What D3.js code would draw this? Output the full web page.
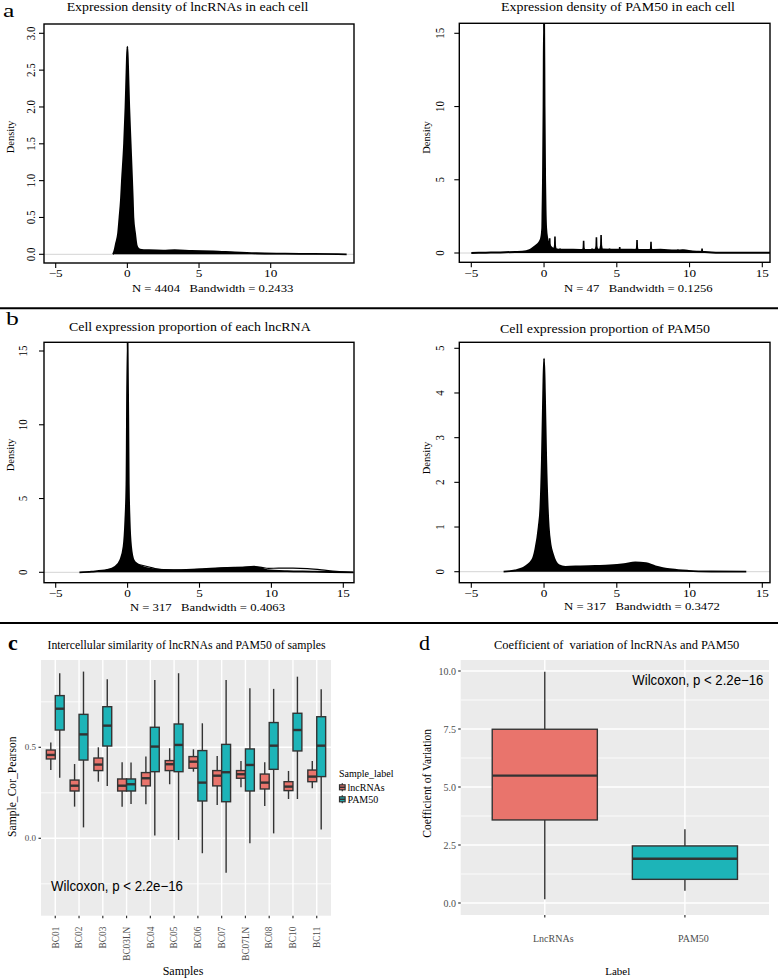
<!DOCTYPE html>
<html><head><meta charset="utf-8">
<script src="https://cdn.jsdelivr.net/npm/d3@7/dist/d3.min.js"></script>
<style>
body{margin:0;background:#fff}
svg{display:block}
text{white-space:pre}
</style>
</head><body>
<svg id="fig" width="778" height="979"></svg>
<script>
// ================= DATA =================
// Panel a (left): envelope of the per-cell lncRNA expression densities
const aLncX     = [-1.0,-0.9,-0.79,-0.65,-0.55,-0.45,-0.38,-0.23,-0.13,-0.05,0,0.05,0.13,0.23,0.33,0.38,0.42,0.54,0.65,0.8,1.0,1.5,2.5,3.3,4.5,6,7.5,9,11,13,15.3];
const aLncUpper = [0,0.05,0.15,0.28,0.5,0.74,1.0,1.5,2.0,2.55,2.82,2.55,2.0,1.5,1.0,0.74,0.5,0.28,0.12,0.07,0.06,0.055,0.05,0.055,0.045,0.04,0.025,0.014,0.009,0.005,0];

// Panel a (right): envelope of the per-cell PAM50 expression densities + narrow spikes
const aPamX     = [-5,-4,-3,-2,-1.5,-1,-0.8,-0.5,-0.35,-0.2,-0.12,-0.1,-0.07,-0.03,0,0.03,0.07,0.1,0.14,0.22,0.35,0.55,0.8,1.2,2,3,4,5,6,7,8,9,9.6,10.2,10.6,11.3,12,15.8];
const aPamUpper = [0,0.02,0.04,0.07,0.09,0.2,0.32,0.55,0.7,1.0,1.7,3,5,10,16,10,5,3,1.7,1.0,0.6,0.34,0.26,0.22,0.22,0.2,0.24,0.22,0.22,0.2,0.22,0.17,0.18,0.1,0.08,0.05,0.02,0.01];
const aPamSpikeX = [0.39,0.75,1.1,1.6,2.2,2.72,3.3,3.6,3.92,4.5,4.8,5.2,5.7,6.39,6.9,7.35,8.1,8.8,9.2,9.5,10.1,10.86];
const aPamSpikeY = [1.0,1.12,0.3,0.25,0.28,0.84,0.3,1.07,1.23,0.3,0.28,0.41,0.25,0.89,0.22,0.77,0.25,0.2,0.24,0.22,0.14,0.3];

// Panel b (left): cell expression proportion of each lncRNA
const bLncX       = [-3.35,-2.5,-1.44,-0.86,-0.51,-0.28,-0.16,-0.08,0,0.08,0.14,0.24,0.42,0.7,0.89,1.81,3.2,4.84,6.94,8.0,8.8,9.7,11.1,13,14.1,15.7];
const bLncCore    = [0,0.05,0.16,0.38,0.83,1.74,3.5,6,15.8,6,3.5,1.74,0.83,0.55,0.42,0.2,0.15,0.2,0.3,0.32,0.38,0.15,0.08,0.05,0.02,0];
const bLncOutlineX = [0.3,0.6,1.0,1.5,1.9,2.5,3.5,5,7,8.5,9.2,9.8,10.5,11.5,12.5,13.5,14.5,15.7];
const bLncOutlineY = [0.75,0.55,0.48,0.36,0.25,0.17,0.15,0.2,0.3,0.36,0.35,0.27,0.28,0.28,0.25,0.17,0.06,0];

// Panel b (right): cell expression proportion of PAM50
const bPamX     = [-2.78,-2.0,-1.51,-0.82,-0.6,-0.37,-0.25,-0.15,-0.06,0,0.06,0.15,0.25,0.32,0.45,0.6,1.0,1.47,2.5,3.5,4.5,5.5,6.27,7.0,7.65,8.8,9.94,11.5,13.9];
const bPamUpper = [0,0.03,0.075,0.26,0.5,1.0,1.45,2.5,4.0,4.77,4.0,2.5,1.45,1.0,0.6,0.4,0.15,0.11,0.12,0.13,0.14,0.17,0.21,0.19,0.12,0.05,0.02,0.005,0];

// Panel c: intercellular similarity (box statistics per sample)
const samples = ["BC01","BC02","BC03","BC03LN","BC04","BC05","BC06","BC07","BC07LN","BC08","BC10","BC11"];
const cLncLow  = [0.375,0.174,0.311,0.174,0.187,0.297,0.366,0.183,0.280,0.178,0.216,0.275];
const cLncQ1   = [0.436,0.260,0.372,0.260,0.288,0.372,0.385,0.288,0.330,0.271,0.262,0.311];
const cLncMed  = [0.458,0.289,0.405,0.289,0.330,0.407,0.421,0.344,0.352,0.306,0.284,0.339];
const cLncQ3   = [0.485,0.320,0.441,0.326,0.361,0.427,0.449,0.372,0.372,0.353,0.311,0.375];
const cLncHigh = [0.526,0.408,0.500,0.418,0.449,0.495,0.489,0.452,0.425,0.418,0.370,0.425];
const cPamLow  = [0.333,0.060,0.288,0.189,0.016,-0.009,-0.082,-0.189,-0.027,0.027,0.216,0.049];
const cPamQ1   = [0.595,0.430,0.507,0.260,0.366,0.366,0.205,0.201,0.260,0.379,0.480,0.339];
const cPamMed  = [0.712,0.571,0.619,0.297,0.504,0.513,0.306,0.363,0.403,0.509,0.595,0.509];
const cPamQ3   = [0.784,0.681,0.723,0.326,0.610,0.628,0.482,0.516,0.491,0.636,0.687,0.668];
const cPamHigh = [0.907,0.916,0.874,0.416,0.870,0.907,0.632,0.870,0.824,0.821,0.888,0.819];
const cYTicks = [0.0, 0.5];
const cLegend = ["lncRNAs","PAM50"];

// Panel d: coefficient of variation
const dLabels = ["LncRNAs","PAM50"];
const dLow  = [0.16, 0.53];
const dQ1   = [3.58, 1.02];
const dMed  = [5.49, 1.91];
const dQ3   = [7.49, 2.46];
const dHigh = [9.97, 3.18];
const dYTicks = [0.0, 2.5, 5.0, 7.5, 10.0];

// ================= DRAWING =================
const svg = d3.select("#fig");
const SERIF = "'Liberation Serif','Times New Roman',serif";
const SANS = "'Liberation Sans',Arial,sans-serif";
const RED = "#E9746C", TEAL = "#1DB4B8";

function txt(parent, x, y, s, o = {}) {
  let tr = `translate(${x},${y})`;
  if (o.sx) tr += ` scale(${o.sx},1)`;
  if (o.rot) tr += ` rotate(${o.rot})`;
  const t = parent.append("text")
    .attr("transform", tr)
    .attr("text-anchor", o.anchor || "middle")
    .attr("fill", o.fill || "#000")
    .style("font-size", (o.size || 11) + "px")
    .style("font-family", o.family || SERIF)
    .text(s);
  if (o.weight) t.style("font-weight", o.weight);
  if (o.dy) t.attr("dy", o.dy);
  if (o.len) t.attr("textLength", o.len).attr("lengthAdjust", "spacingAndGlyphs");
  return t;
}

const zip = (xs, ys) => xs.map((v, i) => [v, ys[i]]);

function densityPanel(p) {
  const g = svg.append("g");
  const x = d3.scaleLinear().domain(p.xDom).range(p.xRange);
  const y = d3.scaleLinear().domain(p.yDom).range(p.yRange);
  const [bx0, by0, bx1, by1] = p.box;
  const cid = "clip-" + p.id;
  svg.append("clipPath").attr("id", cid).append("rect")
    .attr("x", bx0).attr("y", by0).attr("width", bx1 - bx0).attr("height", by1 - by0);
  const plot = g.append("g").attr("clip-path", `url(#${cid})`);
  plot.append("line").attr("x1", bx0).attr("x2", bx1).attr("y1", y(0)).attr("y2", y(0))
    .attr("stroke", "#d4d4d4").attr("stroke-width", 1);
  p.draw(plot, x, y);
  g.append("rect").attr("x", bx0).attr("y", by0).attr("width", bx1 - bx0).attr("height", by1 - by0)
    .attr("fill", "none").attr("stroke", "#000").attr("stroke-width", 1.4);
  p.xTicks.forEach(v => {
    g.append("line").attr("x1", x(v)).attr("x2", x(v)).attr("y1", by1).attr("y2", by1 + 5)
      .attr("stroke", "#000").attr("stroke-width", 1.1);
    txt(g, x(v), p.xLabY, d3.format("d")(v), {size: 11, sx: 1.2});
  });
  p.yTicks.forEach(v => {
    g.append("line").attr("x1", bx0 - 5).attr("x2", bx0).attr("y1", y(v)).attr("y2", y(v))
      .attr("stroke", "#000").attr("stroke-width", 1.1);
    txt(g, p.yLabX, y(v), p.yFmt(v), {size: 11, sx: 1.2, rot: -90});
  });
  txt(g, p.title[1], p.title[2], p.title[0], {size: 11.5, len: p.title[3]});
  txt(g, p.xlab[1], p.xlab[2], p.xlab[0], {size: 11, len: p.xlab[3]});
  txt(g, p.ylab[0], p.ylab[1], "Density", {size: 10.5, rot: -90});
}

const areaGen = (x, y) => d3.area().x(d => x(d[0])).y0(y(0)).y1(d => y(d[1])).curve(d3.curveMonotoneX);
const lineGen = (x, y) => d3.line().x(d => x(d[0])).y(d => y(d[1])).curve(d3.curveMonotoneX);

// ---- a left
densityPanel({
  id: "al", box: [44, 24, 354, 263],
  xDom: [-5, 10], xRange: [55.7, 270.7], yDom: [0, 3], yRange: [254.3, 33.3],
  xTicks: [-5, 0, 5, 10], yTicks: [0, 0.5, 1, 1.5, 2, 2.5, 3], yFmt: d3.format(".1f"),
  xLabY: 277, yLabX: 35,
  title: ["Expression density of lncRNAs in each cell", 187.5, 11, 241.7],
  xlab: ["N = 4404   Bandwidth = 0.2433", 212.7, 292, 161.3],
  ylab: [14, 137],
  draw: (g, x, y) => {
    const pts = zip(aLncX, aLncUpper);
    g.append("path").attr("d", areaGen(x, y)(pts)).attr("fill", "#000");
    g.append("path").attr("d", lineGen(x, y)(pts)).attr("fill", "none").attr("stroke", "#000").attr("stroke-width", 1.8);
  }
});

// ---- a right
densityPanel({
  id: "ar", box: [459.3, 23.3, 770, 262.3],
  xDom: [-5, 15], xRange: [471.3, 762.3], yDom: [0, 15], yRange: [253, 33.3],
  xTicks: [-5, 0, 5, 10, 15], yTicks: [0, 5, 10, 15], yFmt: d3.format("d"),
  xLabY: 277, yLabX: 444,
  title: ["Expression density of PAM50 in each cell", 618, 11, 234],
  xlab: ["N = 47   Bandwidth = 0.1256", 638.3, 292, 148.7],
  ylab: [429.5, 137.5],
  draw: (g, x, y) => {
    const pts = zip(aPamX, aPamUpper);
    g.append("path").attr("d", areaGen(x, y)(pts)).attr("fill", "#000");
    g.append("path").attr("d", lineGen(x, y)(pts)).attr("fill", "none").attr("stroke", "#000").attr("stroke-width", 2);
    zip(aPamSpikeX, aPamSpikeY).forEach(([v, h]) => {
      const p = d3.path();
      p.moveTo(x(v - 0.16), y(0));
      p.lineTo(x(v - 0.07), y(h * 0.45));
      p.lineTo(x(v - 0.055), y(h));
      p.lineTo(x(v + 0.055), y(h));
      p.lineTo(x(v + 0.07), y(h * 0.45));
      p.lineTo(x(v + 0.16), y(0));
      p.closePath();
      g.append("path").attr("d", p.toString()).attr("fill", "#000");
    });
  }
});

// ---- b left
densityPanel({
  id: "bl", box: [44, 342.3, 354, 582.7],
  xDom: [-5, 15], xRange: [55.7, 343.3], yDom: [0, 15], yRange: [572.3, 351],
  xTicks: [-5, 0, 5, 10, 15], yTicks: [0, 5, 10, 15], yFmt: d3.format("d"),
  xLabY: 597, yLabX: 26.7,
  title: ["Cell expression proportion of each lncRNA", 189.8, 331.3, 241.7],
  xlab: ["N = 317   Bandwidth = 0.4063", 207.5, 611, 155],
  ylab: [14, 455],
  draw: (g, x, y) => {
    const pts = zip(bLncX, bLncCore);
    g.append("path").attr("d", areaGen(x, y)(pts)).attr("fill", "#000");
    g.append("path").attr("d", lineGen(x, y)(pts)).attr("fill", "none").attr("stroke", "#000").attr("stroke-width", 1.8);
    g.append("path").attr("d", lineGen(x, y)(zip(bLncOutlineX, bLncOutlineY)))
      .attr("fill", "none").attr("stroke", "#000").attr("stroke-width", 1.2);
  }
});

// ---- b right
densityPanel({
  id: "br", box: [459.3, 342.3, 770, 582.7],
  xDom: [-5, 15], xRange: [471.3, 762.3], yDom: [0, 5], yRange: [571.7, 348.3],
  xTicks: [-5, 0, 5, 10, 15], yTicks: [0, 1, 2, 3, 4, 5], yFmt: d3.format("d"),
  xLabY: 597, yLabX: 444,
  title: ["Cell expression proportion of PAM50", 605, 333, 210],
  xlab: ["N = 317   Bandwidth = 0.3472", 642, 610, 156],
  ylab: [429.5, 458],
  draw: (g, x, y) => {
    const pts = zip(bPamX, bPamUpper);
    g.append("path").attr("d", areaGen(x, y)(pts)).attr("fill", "#000");
    g.append("path").attr("d", lineGen(x, y)(pts)).attr("fill", "none").attr("stroke", "#000").attr("stroke-width", 1.8);
  }
});

// separators and panel letters
[308.3, 623].forEach(yy => svg.append("line").attr("x1", 0).attr("x2", 778).attr("y1", yy).attr("y2", yy)
  .attr("stroke", "#000").attr("stroke-width", 2));
txt(svg, 3, 17, "a", {size: 19, sx: 1.35, anchor: "start"});
txt(svg, 6, 325, "b", {size: 19, sx: 1.35, anchor: "start"});
txt(svg, 8, 649.5, "c", {size: 22, anchor: "start", weight: "bold"});
txt(svg, 419, 650, "d", {size: 22, anchor: "start"});

// ---------- ggplot-style box helper ----------
function drawBox(g, cx, w, sc, lo, q1, md, q3, hi, fill) {
  g.append("line").attr("x1", cx).attr("x2", cx).attr("y1", sc(hi)).attr("y2", sc(q3))
    .attr("stroke", "#333").attr("stroke-width", 1.4);
  g.append("line").attr("x1", cx).attr("x2", cx).attr("y1", sc(q1)).attr("y2", sc(lo))
    .attr("stroke", "#333").attr("stroke-width", 1.4);
  g.append("rect").attr("x", cx - w / 2).attr("y", sc(q3)).attr("width", w).attr("height", sc(q1) - sc(q3))
    .attr("fill", fill).attr("stroke", "#333").attr("stroke-width", 1.4);
  g.append("line").attr("x1", cx - w / 2).attr("x2", cx + w / 2).attr("y1", sc(md)).attr("y2", sc(md))
    .attr("stroke", "#333").attr("stroke-width", 2.4);
}

// ---- c
{
  const P = {x0: 41, x1: 331, y0: 660, y1: 915.7};
  const g = svg.append("g");
  const x = d3.scalePoint().domain(samples).range([P.x0, P.x1]).padding(0.6);
  const y = d3.scaleLinear().domain([0, 0.5]).range([838.3, 747.3]);
  const step = x.step();
  g.append("rect").attr("x", P.x0).attr("y", P.y0).attr("width", P.x1 - P.x0).attr("height", P.y1 - P.y0).attr("fill", "#EBEBEB");
  [-0.25, 0.25, 0.75].forEach(v => g.append("line").attr("x1", P.x0).attr("x2", P.x1).attr("y1", y(v)).attr("y2", y(v))
    .attr("stroke", "#fff").attr("stroke-width", 0.8));
  cYTicks.forEach(v => g.append("line").attr("x1", P.x0).attr("x2", P.x1).attr("y1", y(v)).attr("y2", y(v))
    .attr("stroke", "#fff").attr("stroke-width", 1.4));
  samples.forEach(s => g.append("line").attr("x1", x(s)).attr("x2", x(s)).attr("y1", P.y0).attr("y2", P.y1)
    .attr("stroke", "#fff").attr("stroke-width", 1.4));
  const bw = step * 0.375, off = step * 0.1875;
  samples.forEach((s, i) => {
    drawBox(g, x(s) - off, bw, y, cLncLow[i], cLncQ1[i], cLncMed[i], cLncQ3[i], cLncHigh[i], RED);
    drawBox(g, x(s) + off, bw, y, cPamLow[i], cPamQ1[i], cPamMed[i], cPamQ3[i], cPamHigh[i], TEAL);
  });
  cYTicks.forEach(v => {
    g.append("line").attr("x1", P.x0 - 2.5).attr("x2", P.x0).attr("y1", y(v)).attr("y2", y(v)).attr("stroke", "#333").attr("stroke-width", 1.2);
    txt(g, 36, y(v), d3.format(".1f")(v), {size: 9, anchor: "end", fill: "#4D4D4D", dy: "0.35em"});
  });
  samples.forEach(s => {
    g.append("line").attr("x1", x(s)).attr("x2", x(s)).attr("y1", P.y1).attr("y2", P.y1 + 2.5).attr("stroke", "#333").attr("stroke-width", 1.2);
    txt(g, x(s), 926.7, s, {size: 9.3, anchor: "end", fill: "#4D4D4D", rot: -90, dy: "0.35em"});
  });
  txt(g, 51, 891, "Wilcoxon, p < 2.2e\u221216", {size: 14, anchor: "start", family: SANS, len: 132});
  txt(g, 186.5, 648.5, "Intercellular similarity of lncRNAs and PAM50 of samples", {size: 11.5, len: 278});
  txt(g, 183, 975, "Samples", {size: 12});
  txt(g, 16, 786.7, "Sample_Cor_Pearson", {size: 11.6, rot: -90});
  // legend
  txt(g, 339, 776.7, "Sample_label", {size: 10, anchor: "start"});
  [RED, TEAL].forEach((c, i) => {
    const ky = 787.3 + i * 12, kx = 342.3;
    g.append("line").attr("x1", kx).attr("x2", kx).attr("y1", ky - 4).attr("y2", ky + 4).attr("stroke", "#333").attr("stroke-width", 1.3);
    g.append("rect").attr("x", kx - 2.8).attr("y", ky - 2.5).attr("width", 5.6).attr("height", 5)
      .attr("fill", c).attr("stroke", "#333").attr("stroke-width", 1.2);
    g.append("line").attr("x1", kx - 2.8).attr("x2", kx + 2.8).attr("y1", ky).attr("y2", ky).attr("stroke", "#333").attr("stroke-width", 1.6);
    txt(g, 347.5, ky + 3.5, cLegend[i], {size: 10, anchor: "start"});
  });
}

// ---- d
{
  const P = {x0: 460.7, x1: 769, y0: 660, y1: 915};
  const g = svg.append("g");
  const x = d3.scalePoint().domain(dLabels).range([P.x0, P.x1]).padding(0.6);
  const y = d3.scaleLinear().domain([0, 10]).range([903, 671]);
  const step = x.step();
  g.append("rect").attr("x", P.x0).attr("y", P.y0).attr("width", P.x1 - P.x0).attr("height", P.y1 - P.y0).attr("fill", "#EBEBEB");
  [1.25, 3.75, 6.25, 8.75].forEach(v => g.append("line").attr("x1", P.x0).attr("x2", P.x1).attr("y1", y(v)).attr("y2", y(v))
    .attr("stroke", "#fff").attr("stroke-width", 0.8));
  dYTicks.forEach(v => g.append("line").attr("x1", P.x0).attr("x2", P.x1).attr("y1", y(v)).attr("y2", y(v))
    .attr("stroke", "#fff").attr("stroke-width", 1.4));
  dLabels.forEach(s => g.append("line").attr("x1", x(s)).attr("x2", x(s)).attr("y1", P.y0).attr("y2", P.y1)
    .attr("stroke", "#fff").attr("stroke-width", 1.4));
  const fills = [RED, TEAL];
  dLabels.forEach((s, i) => drawBox(g, x(s), step * 0.75, y, dLow[i], dQ1[i], dMed[i], dQ3[i], dHigh[i], fills[i]));
  dYTicks.forEach(v => {
    g.append("line").attr("x1", P.x0 - 2.5).attr("x2", P.x0).attr("y1", y(v)).attr("y2", y(v)).attr("stroke", "#333").attr("stroke-width", 1.2);
    txt(g, 456, y(v), d3.format(".1f")(v), {size: 10, anchor: "end", fill: "#4D4D4D", dy: "0.35em"});
  });
  dLabels.forEach(s => {
    g.append("line").attr("x1", x(s)).attr("x2", x(s)).attr("y1", P.y1).attr("y2", P.y1 + 2.5).attr("stroke", "#333").attr("stroke-width", 1.2);
    txt(g, x(s) + 8.5, 942, s, {size: 10, fill: "#4D4D4D"});
  });
  txt(g, 632.3, 685.3, "Wilcoxon, p < 2.2e\u221216", {size: 14, anchor: "start", family: SANS, len: 131});
  txt(g, 616.7, 648.5, "Coefficient of  variation of lncRNAs and PAM50", {size: 12, len: 245.3});
  txt(g, 617.7, 975, "Label", {size: 11});
  txt(g, 431, 783.3, "Coefficient of Variation", {size: 11.5, rot: -90});
}
</script>
</body></html>
